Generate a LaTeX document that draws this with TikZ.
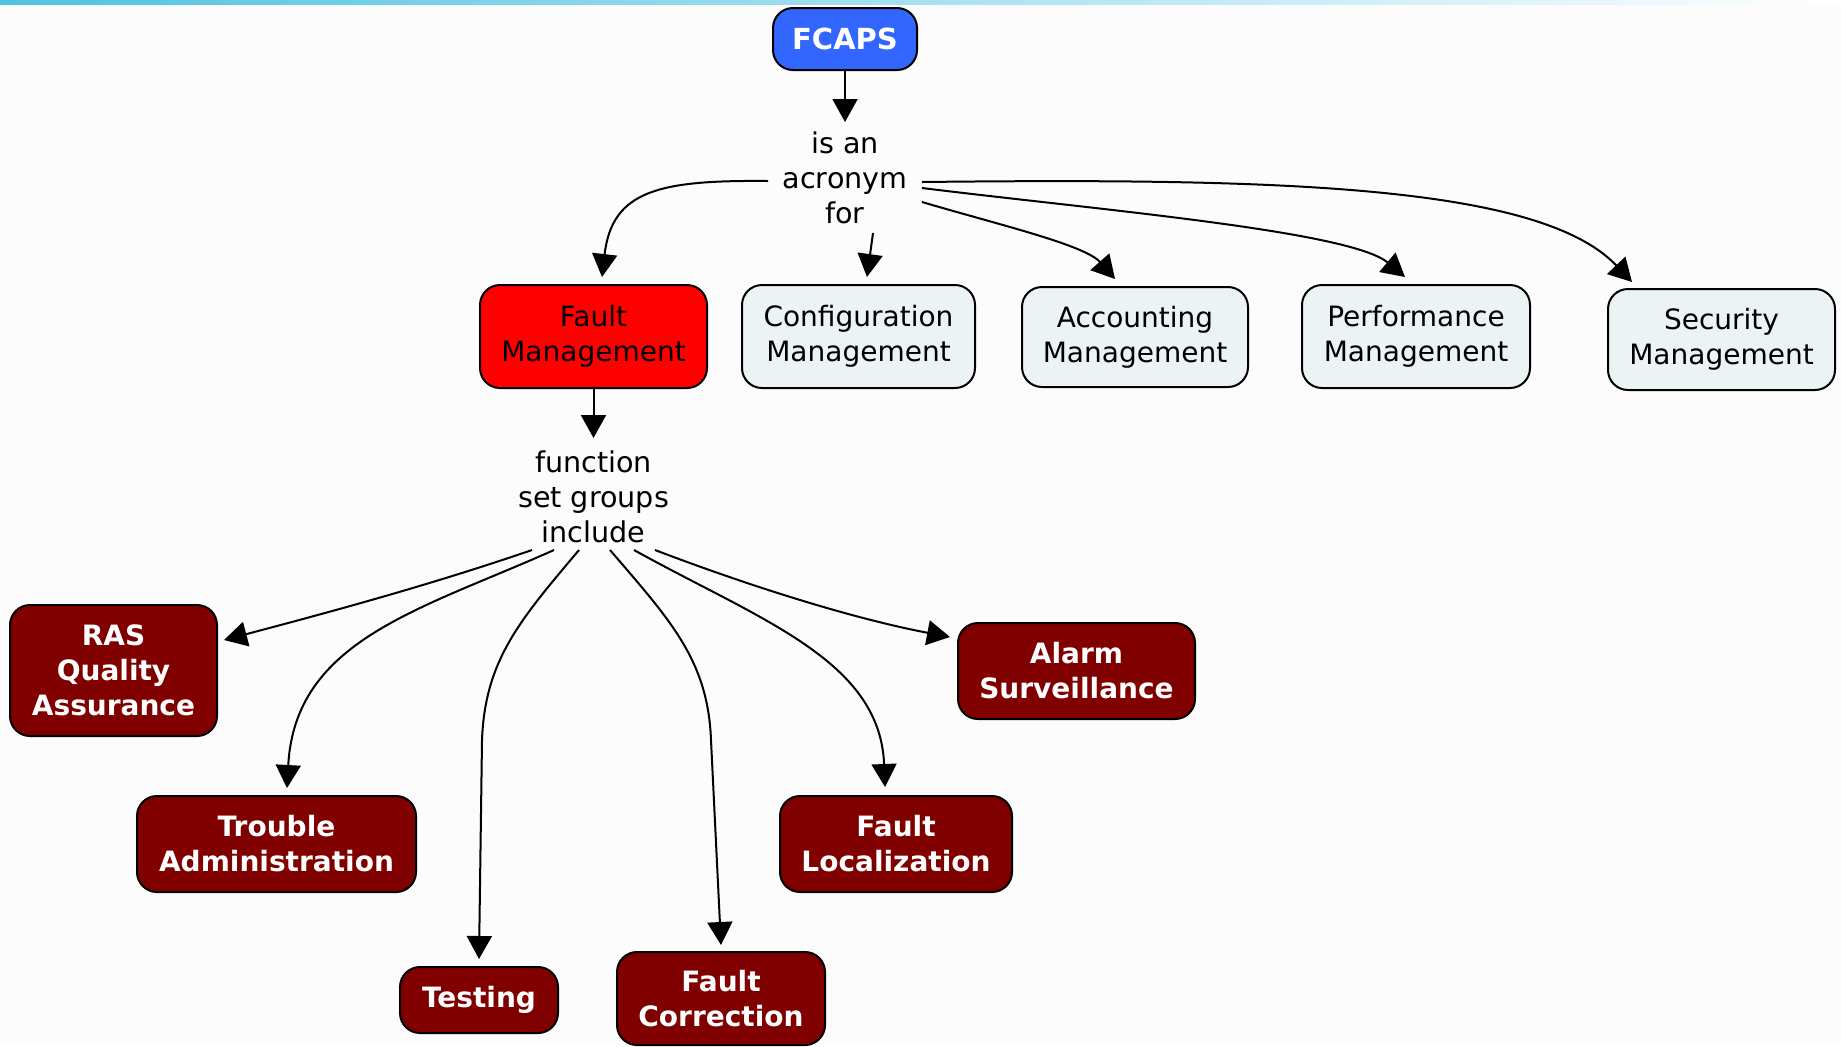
\documentclass[tikz,border=0pt]{standalone}
\usepackage{fontspec}
\setmainfont{DejaVu Sans}
\usetikzlibrary{arrows.meta}
\definecolor{fcapsblue}{HTML}{3366FF}
\definecolor{faultred}{HTML}{FF0000}
\definecolor{paleblue}{HTML}{EBF3F5}
\definecolor{darkmaroon}{HTML}{800000}
\definecolor{barcyan}{HTML}{4FC3E2}
\definecolor{pagebg}{HTML}{FCFCFC}

\begin{document}
\begin{tikzpicture}[x=0.5pt,y=-0.5pt,
  boxbase/.style={draw=black, line width=1pt, rounded corners=10pt, align=center, inner sep=0pt},
  plainbox/.style={boxbase, fill=paleblue, font=\fontsize{14}{17.5}\selectfont},
  darkbox/.style={boxbase, fill=darkmaroon, text=white, font=\bfseries\fontsize{14}{17.5}\selectfont},
  sz/.style 2 args={minimum width=#1*0.5pt, minimum height=#2*0.5pt},
  lbl/.style={align=center, inner sep=0pt, font=\fontsize{14.3}{17.5}\selectfont},
  conn/.style={line width=1pt, -{Triangle[length=11.5pt,width=12.5pt]}}
]
% page and top accent bar
\useasboundingbox (0,0) rectangle (1841,1046);
\fill[pagebg] (0,0) rectangle (1841,1046);
\shade[left color=barcyan, right color=white] (0,0) rectangle (1841,4);

% root concept
\node[boxbase, fill=fcapsblue, text=white, font=\bfseries\fontsize{14.5}{17.5}\selectfont, sz={144}{62}] (fcaps) at (845,39) {FCAPS};
\node[lbl] (acr) at (845,178) {is an\\acronym\\for};

% the five management areas
\node[boxbase, fill=faultred, font=\fontsize{14}{17.5}\selectfont, sz={227}{103}] (fault) at (593.5,336.5) {Fault\\Management};
\node[plainbox, sz={233}{103}] (config) at (858.5,336.5) {Configuration\\Management};
\node[plainbox, sz={226}{100}] (acct) at (1135,337) {Accounting\\Management};
\node[plainbox, sz={228}{103}] (perf) at (1416,336.5) {Performance\\Management};
\node[plainbox, sz={227}{101}] (sec) at (1721.5,339.5) {Security\\Management};

\node[lbl] (fsg) at (593.5,497) {function\\set groups\\include};

% fault management function set groups
\node[darkbox, sz={207}{131}] (ras) at (113.5,670.5) {RAS\\Quality\\Assurance};
\node[darkbox, sz={279}{96}] (trouble) at (276.5,844) {Trouble\\Administration};
\node[darkbox, sz={158}{66}] (testing) at (479,1000) {Testing};
\node[darkbox, sz={208}{93}] (fcorr) at (721,998.5) {Fault\\Correction};
\node[darkbox, sz={232}{96}] (floc) at (896,844) {Fault\\Localization};
\node[darkbox, sz={237}{96}] (alarm) at (1076.5,671) {Alarm\\Surveillance};

% connectors
\draw[conn] (fcaps.south) -- ([shift={(0,-56)}]acr.center);
\draw[conn] ([shift={(-77,3)}]acr.center) .. controls (660,180) and (612,190) .. ([shift={(8.5,-7)}]fault.north);
\draw[conn] ([shift={(28,55)}]acr.center) -- ([shift={(8.5,-7)}]config.north);
\draw[conn] ([shift={(77,24)}]acr.center) .. controls (1000,225) and (1085,245) .. ([shift={(-20,-7)}]acct.north);
\draw[conn] ([shift={(77,10)}]acr.center) .. controls (1100,210) and (1350,231) .. ([shift={(-11,-7)}]perf.north);
\draw[conn] ([shift={(77,4)}]acr.center) .. controls (1280,178) and (1540,185) .. ([shift={(-89.5,-6)}]sec.north);

\draw[conn] (fault.south) -- ([shift={(0,-59)}]fsg.center);

\draw[conn] ([shift={(-61.5,53)}]fsg.center) .. controls (430,585) and (330,612) .. ([shift={(6,-30.5)}]ras.east);
\draw[conn] ([shift={(-39.5,53)}]fsg.center) .. controls (420,610) and (295,640) .. ([shift={(10.5,-7)}]trouble.north);
\draw[conn] ([shift={(-14.5,53)}]fsg.center) .. controls (520,620) and (485,660) .. (482,740) -- ([shift={(0,-7)}]testing.north);
\draw[conn] ([shift={(16.5,53)}]fsg.center) .. controls (670,620) and (708,660) .. (711,740) -- ([shift={(0,-6)}]fcorr.north);
\draw[conn] ([shift={(40.5,53)}]fsg.center) .. controls (760,620) and (880,660) .. ([shift={(-11,-8)}]floc.north);
\draw[conn] ([shift={(61.5,53)}]fsg.center) .. controls (760,590) and (860,620) .. ([shift={(-7,-34)}]alarm.west);
\end{tikzpicture}
\end{document}
